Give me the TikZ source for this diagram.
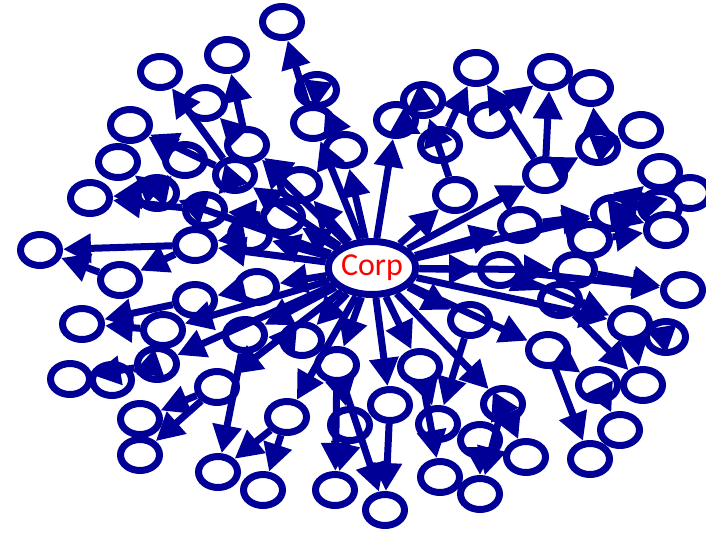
\documentclass[tikz,border=0pt]{standalone}
\usepackage{fontspec}
\newfontfamily\corpfont{Carlito}
\usetikzlibrary{shapes.geometric,arrows.meta}
\definecolor{netblue}{RGB}{0,0,150}
\begin{document}
\begin{tikzpicture}[x=1pt,y=-1pt,line width=7pt]
\tikzset{
  firm/.style={ellipse,draw=netblue,line width=7pt,fill=white,inner sep=0pt,minimum width=39pt,minimum height=31pt},
  corp/.style={firm,minimum width=70pt,minimum height=53pt,text=red,font=\corpfont\fontsize{32}{32}\selectfont},
  link/.style={draw=netblue,-{Triangle[length=28pt,width=28pt]}}
}
\useasboundingbox (0,0) rectangle (706,535);
% hubs round the centre
\foreach \n/\x/\y in {h1/545/175, h2/500/270, h3/548/350, h4/503/404, h5/420/367,
    h6/337/365, h7/302/340, h8/257/287, h9/217/387, h10/287/417, h11/163/330,
    h12/157/364, h13/157/193, h14/235/175, h15/247/145, h16/313/123, h17/396/120,
    h18/598/147, h19/613/213, h20/630/324, h21/598/385, h22/283/217, h23/455/195,
    h24/195/245}
  \node[firm] (\n) at (\x,\y) {};
% second ring, between the hubs
\foreach \n/\x/\y in {m1/205/210, m2/185/160, m3/300/185, m4/345/150, m5/440/145,
    m6/490/120, m7/520/225, m8/575/270, m9/560/300, m10/470/320, m11/390/405,
    m12/350/425, m13/245/335, m14/195/300, m15/120/280, m16/250/235, m17/480/440,
    m18/590/240}
  \node[firm] (\n) at (\x,\y) {};
% outer ring
\foreach \n/\x/\y in {l1/282/22, l2/227/55, l3/160/72, l4/130/125, l5/118/162,
    l6/90/198, l7/40/250, l8/317/90, l9/205/103, l10/476/68, l11/550/72,
    l12/591/88, l13/641/130, l14/660/172, l15/690/193, l16/660/207, l17/666/230,
    l18/683/290, l19/666/337, l20/643/385, l21/620/430, l22/590/459, l23/526/457,
    l24/480/494, l25/440/477, l26/385/510, l27/438/424, l28/335/490, l29/263/490,
    l30/218/472, l31/140/455, l32/140/419, l33/70/379, l34/112/380, l35/82/324,
    l36/423/100}
  \node[firm] (\n) at (\x,\y) {};
\node[corp] (c) at (372,268) {Corp};
% spokes
\foreach \to in {h1,h2,h3,h4,h5,h6,h7,h8,h9,h10,h11,h12,h13,h14,h15,h16,h17,
    h19,h20,h22,h23,h24,m3,m4,m7,m10,m11,m16,m13,m8}
  \draw[link] (c) -- (\to);
\foreach \from/\to in {h1/l10, h1/l11, h1/h18, h18/l12, h18/l13, h19/l14, h19/l15,
    h19/l16, h19/l17, h2/l18, h2/h20, h20/l19, h20/l20, h3/h21, h21/l21, h3/l22,
    h4/l23, h4/l24, h5/l27, h5/l25, h6/l26, h6/l28, h10/l29, h10/l30, h9/l31,
    h9/l32, h12/l33, h12/l34, h11/l35, h24/l7, h13/l6, h13/l5, h14/l4, h14/l3,
    h15/l9, h15/l2, h16/l1, h16/l8, h17/l36, h23/l36,
    h13/m2, h14/m1, m1/l6, m2/l4, m5/l10, m6/l11, h17/m5, m7/h19, m8/l18, m9/l20,
    m10/l27, h4/m17, m17/l24, m11/l26, m12/l28, h7/m13, m13/l30, m14/l35, m15/l7,
    h24/m15, m16/h24, h22/m1, m18/l17, h2/m9, h6/m12, h8/m14, m3/h15, m4/l8}
  \draw[link] (\from) -- (\to);
\end{tikzpicture}
\end{document}
